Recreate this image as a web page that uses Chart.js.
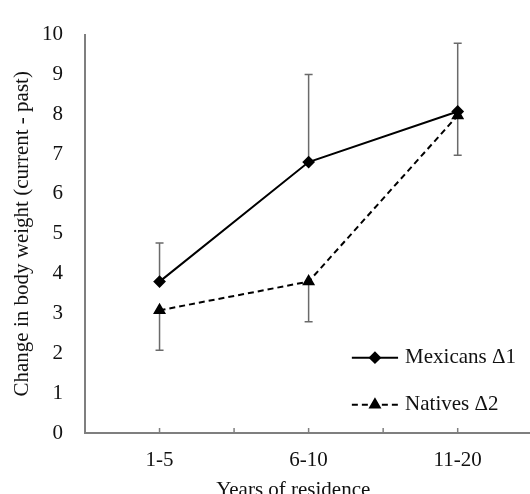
<!DOCTYPE html>
<html>
<head>
<meta charset="utf-8">
<script src="https://cdn.jsdelivr.net/npm/chart.js@4/dist/chart.umd.min.js"></script>
<style>
html,body{margin:0;padding:0;background:#fff;}
#wrap{width:530px;height:494px;position:relative;}
</style>
</head>
<body>
<div id="wrap"><canvas id="c" width="530" height="494"></canvas></div>
<script>
// ---- data ----
const categories = ['1-5', '6-10', '11-20'];
const mexicans = [3.8, 6.8, 8.07];
const natives = [3.08, 3.8, 7.97];
const mexicansUpper = [4.77, 9.0, 9.78];   // error bar tops (Mexicans)
const nativesLower = [2.08, 2.79, 6.97];   // error bar bottoms (Natives)
const yTicks = [0,1,2,3,4,5,6,7,8,9,10];
const seriesNames = ['Mexicans \u03941', 'Natives \u03942'];

const FONT = "'Liberation Serif', 'Times New Roman', serif";
const pos = i => 1 + 2 * i;

const errorBars = {
  id: 'errorBars',
  beforeDatasetsDraw(chart) {
    const {ctx, scales: {x, y}} = chart;
    ctx.save();
    ctx.strokeStyle = '#6a6a6a';
    ctx.lineWidth = 1.5;
    const draw = (vals, ends) => {
      vals.forEach((v, i) => {
        const px = x.getPixelForValue(pos(i));
        const p0 = y.getPixelForValue(v);
        const p1 = y.getPixelForValue(ends[i]);
        ctx.beginPath();
        ctx.moveTo(px, p0); ctx.lineTo(px, p1);
        ctx.moveTo(px - 4, p1); ctx.lineTo(px + 4, p1);
        ctx.stroke();
      });
    };
    draw(mexicans, mexicansUpper);
    draw(natives, nativesLower);
    ctx.restore();
  }
};

const extras = {
  id: 'extras',
  afterDraw(chart) {
    const {ctx, chartArea: ca, scales: {x, y}} = chart;
    ctx.save();
    // inner tick marks on x axis
    ctx.strokeStyle = '#7f7f7f';
    ctx.lineWidth = 1.5;
    [1,2,3,4,5].forEach(v => {
      const px = x.getPixelForValue(v);
      ctx.beginPath(); ctx.moveTo(px, ca.bottom); ctx.lineTo(px, ca.bottom - 5); ctx.stroke();
    });
    // x title
    ctx.fillStyle = '#111';
    ctx.font = '21px ' + FONT;
    ctx.textAlign = 'center';
    ctx.textBaseline = 'middle';
    ctx.fillText('Years of residence', ca.left + (ca.right - ca.left) * 0.468, ca.bottom + 57);
    // legend
    const lx0 = x.getPixelForValue(3.58), lx1 = x.getPixelForValue(4.2);
    const lm = (lx0 + lx1) / 2;
    const rows = [
      {y: y.getPixelForValue(1.89), dash: [], style: 'rectRot', r: 5, name: seriesNames[0]},
      {y: y.getPixelForValue(0.71), dash: [6, 4], style: 'triangle', r: 5.5, name: seriesNames[1]}
    ];
    rows.forEach(rw => {
      ctx.strokeStyle = '#000';
      ctx.fillStyle = '#000';
      ctx.lineWidth = 2;
      ctx.setLineDash(rw.dash);
      ctx.beginPath(); ctx.moveTo(lx0, rw.y); ctx.lineTo(lx1, rw.y); ctx.stroke();
      ctx.setLineDash([]);
      Chart.helpers.drawPoint(ctx, {pointStyle: rw.style, radius: rw.r, borderWidth: 1}, lm, rw.y);
      ctx.fill();
      ctx.fillStyle = '#111';
      ctx.textAlign = 'left';
      ctx.font = '21px ' + FONT;
      ctx.fillText(rw.name, lx1 + 7, rw.y);
    });
    ctx.restore();
  }
};

new Chart(document.getElementById('c'), {
  type: 'line',
  data: {
    datasets: [
      {
        label: seriesNames[0],
        data: mexicans.map((v, i) => ({x: pos(i), y: v})),
        borderColor: '#000', backgroundColor: '#000', borderWidth: 2,
        pointStyle: 'rectRot', pointRadius: 5, pointBackgroundColor: '#000', pointBorderColor: '#000',
        tension: 0
      },
      {
        label: seriesNames[1],
        data: natives.map((v, i) => ({x: pos(i), y: v})),
        borderColor: '#000', backgroundColor: '#000', borderWidth: 2, borderDash: [6, 4],
        pointStyle: 'triangle', pointRadius: 5.5, pointBackgroundColor: '#000', pointBorderColor: '#000',
        tension: 0
      }
    ]
  },
  options: {
    responsive: false,
    animation: false,
    layout: {autoPadding: false, padding: {top: 24, right: 0, left: 0, bottom: 0}},
    plugins: {legend: {display: false}, tooltip: {enabled: false}},
    scales: {
      x: {
        type: 'linear', min: 0, max: 5.97,
        afterBuildTicks: s => { s.ticks = [1,2,3,4,5].map(v => ({value: v})); },
        afterFit: s => { s.height = 61; s.paddingLeft = 0; s.paddingRight = 0; },
        grid: {display: false, drawTicks: false},
        border: {display: true, color: '#7f7f7f', width: 2},
        ticks: {
          autoSkip: false, maxRotation: 0, padding: 15, color: '#111',
          font: {family: FONT, size: 21},
          callback: v => (v % 2 === 1 ? categories[(v - 1) / 2] : '')
        }
      },
      y: {
        type: 'linear', min: 0, max: 10,
        afterBuildTicks: s => { s.ticks = yTicks.map(v => ({value: v})); },
        afterFit: s => { s.width = 85; },
        grid: {display: false, drawTicks: false},
        border: {display: true, color: '#7f7f7f', width: 2},
        ticks: {padding: 22, color: '#111', font: {family: FONT, size: 21}},
        title: {
          display: true, text: 'Change in body weight (current - past)', color: '#111',
          font: {family: FONT, size: 21}, padding: {top: 10, bottom: 0}
        }
      }
    }
  },
  plugins: [errorBars, extras]
});
</script>
</body>
</html>
